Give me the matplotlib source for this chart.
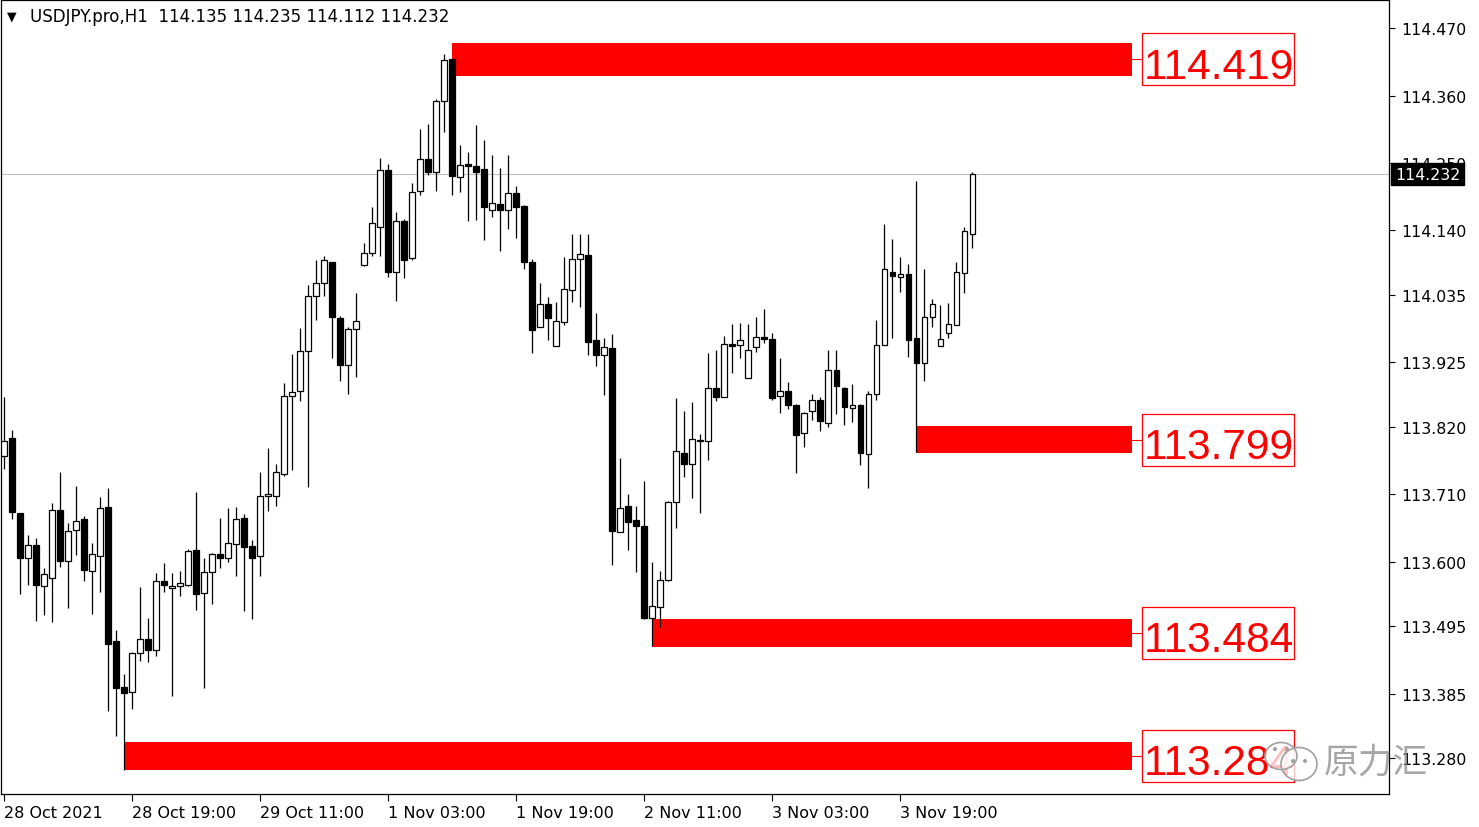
import numpy as np
import matplotlib.pyplot as plt
from matplotlib.patches import Rectangle, Ellipse
import matplotlib.transforms as mtransforms

# USDJPY H1 bars, 28 Oct 03:00 -> 4 Nov 04:00
opens = [113.772, 113.802, 113.679, 113.606, 113.627, 113.560, 113.574, 113.684, 113.601, 113.652,
         113.670, 113.585, 113.609, 113.689, 113.471, 113.396, 113.388, 113.451, 113.474, 113.456,
         113.569, 113.557, 113.560, 113.562, 113.619, 113.549, 113.583, 113.613, 113.606, 113.629,
         113.671, 113.626, 113.609, 113.708, 113.707, 113.743, 113.870, 113.878, 113.944, 114.033,
         114.054, 114.089, 113.997, 113.921, 113.979, 114.084, 114.103, 114.146, 114.239, 114.072,
         114.155, 114.095, 114.204, 114.257, 114.235, 114.351, 114.419, 114.227, 114.248, 114.245,
         114.240, 114.173, 114.183, 114.173, 114.201, 114.180, 114.089, 113.983, 114.020, 113.952,
         113.991, 114.043, 114.094, 114.100, 113.961, 113.937, 113.948, 113.648, 113.691, 113.668,
         113.658, 113.508, 113.526, 113.570, 113.697, 113.777, 113.759, 113.797, 113.797, 113.883,
         113.869, 113.955, 113.953, 113.900, 113.950, 113.966, 113.963, 113.870, 113.878, 113.856,
         113.810, 113.846, 113.864, 113.826, 113.913, 113.883, 113.851, 113.856, 113.776, 113.873,
         113.953, 114.072, 114.064, 114.069, 113.965, 113.924, 113.999, 113.952, 113.973, 113.986,
         114.071, 114.135]
highs = [113.869, 113.815, 113.679, 113.644, 113.639, 113.590, 113.696, 113.746, 113.663, 113.724,
         113.675, 113.631, 113.706, 113.720, 113.489, 113.417, 113.453, 113.559, 113.508, 113.582,
         113.598, 113.582, 113.585, 113.621, 113.714, 113.606, 113.614, 113.671, 113.688, 113.689,
         113.678, 113.636, 113.746, 113.785, 113.759, 113.891, 113.939, 113.981, 114.051, 114.092,
         114.098, 114.089, 114.001, 113.983, 114.038, 114.120, 114.178, 114.258, 114.248, 114.170,
         114.159, 114.217, 114.305, 114.314, 114.354, 114.428, 114.419, 114.279, 114.268, 114.312,
         114.287, 114.263, 114.242, 114.263, 114.212, 114.182, 114.094, 114.054, 114.032, 114.023,
         114.097, 114.134, 114.134, 114.134, 114.005, 113.965, 113.971, 113.769, 113.710, 113.691,
         113.732, 113.600, 113.585, 113.699, 113.867, 113.846, 113.860, 113.808, 113.940, 113.945,
         113.968, 113.988, 113.989, 113.988, 113.999, 114.012, 113.973, 113.932, 113.893, 113.857,
         113.844, 113.873, 113.869, 113.945, 113.945, 113.885, 113.890, 113.857, 113.878, 113.994,
         114.151, 114.126, 114.097, 114.085, 114.221, 114.077, 114.028, 114.019, 114.022, 114.089,
         114.146, 114.235]
lows = [113.751, 113.670, 113.547, 113.562, 113.503, 113.513, 113.502, 113.591, 113.525, 113.611,
        113.569, 113.515, 113.551, 113.357, 113.316, 113.260, 113.360, 113.438, 113.437, 113.446,
        113.551, 113.381, 113.544, 113.560, 113.521, 113.394, 113.531, 113.590, 113.600, 113.577,
        113.520, 113.507, 113.577, 113.683, 113.691, 113.740, 113.750, 113.862, 113.722, 113.994,
        114.033, 113.932, 113.895, 113.873, 113.901, 114.082, 114.098, 114.098, 114.064, 114.025,
        114.063, 114.092, 114.198, 114.230, 114.204, 114.301, 114.198, 114.203, 114.155, 114.157,
        114.124, 114.162, 114.107, 114.142, 114.128, 114.077, 113.940, 113.983, 113.961, 113.952,
        113.986, 114.023, 114.015, 113.937, 113.919, 113.872, 113.595, 113.648, 113.619, 113.583,
        113.507, 113.463, 113.494, 113.569, 113.655, 113.738, 113.704, 113.679, 113.766, 113.862,
        113.869, 113.908, 113.932, 113.900, 113.942, 113.957, 113.864, 113.842, 113.849, 113.745,
        113.787, 113.831, 113.813, 113.820, 113.841, 113.823, 113.828, 113.758, 113.720, 113.864,
        113.953, 113.965, 114.040, 113.934, 113.779, 113.895, 113.983, 113.952, 113.965, 113.986,
        114.038, 114.112]
closes = [113.797, 113.681, 113.606, 113.627, 113.562, 113.580, 113.684, 113.601, 113.650, 113.666,
          113.587, 113.613, 113.688, 113.466, 113.394, 113.386, 113.451, 113.474, 113.456, 113.569,
          113.562, 113.560, 113.565, 113.618, 113.547, 113.583, 113.613, 113.606, 113.631, 113.670,
          113.624, 113.606, 113.707, 113.710, 113.746, 113.870, 113.877, 113.944, 114.033, 114.054,
          114.092, 113.999, 113.921, 113.979, 113.992, 114.103, 114.152, 114.239, 114.072, 114.155,
          114.092, 114.203, 114.257, 114.235, 114.351, 114.418, 114.229, 114.247, 114.245, 114.235,
          114.178, 114.185, 114.173, 114.201, 114.178, 114.089, 113.978, 114.020, 113.997, 113.992,
          114.045, 114.094, 114.102, 113.958, 113.937, 113.950, 113.650, 113.688, 113.665, 113.658,
          113.508, 113.528, 113.570, 113.697, 113.781, 113.759, 113.800, 113.798, 113.883, 113.869,
          113.955, 113.952, 113.961, 113.945, 113.966, 113.963, 113.867, 113.878, 113.856, 113.807,
          113.842, 113.864, 113.829, 113.913, 113.887, 113.852, 113.856, 113.777, 113.873, 113.953,
          114.077, 114.066, 114.069, 113.961, 113.924, 113.999, 114.020, 113.963, 113.988, 114.072,
          114.139, 114.232]

# x axis labels, one every 16 bars
xtick_labels = ["28 Oct 2021", "28 Oct 19:00", "29 Oct 11:00", "1 Nov 03:00",
                "1 Nov 19:00", "2 Nov 11:00", "3 Nov 03:00", "3 Nov 19:00"]
ytick_values = [114.470, 114.360, 114.250, 114.140, 114.035, 113.925,
                113.820, 113.710, 113.600, 113.495, 113.385, 113.280]

# support / resistance zones
level_prices = [114.419, 113.799, 113.484, 113.284]
level_start = [56, 114, 81, 15]
level_half = [0.027, 0.022, 0.023, 0.023]
level_texts = ["114.419", "113.799", "113.484", "113.284"]

header = "USDJPY.pro,H1  114.135 114.235 114.112 114.232"
last_price = 114.232

W, H = 1479, 828
fig = plt.figure(figsize=(W / 100, H / 100), dpi=100)
ax = fig.add_axes([0.5 / W, 33 / H, 1388 / W, 794.5 / H])

o = np.array(opens)
h = np.array(highs)
l = np.array(lows)
c = np.array(closes)
idx = np.arange(len(o))
up = c >= o

# zones (under candles)
zone_end = 141
for lv, st, hh, txt in zip(level_prices, level_start, level_half, level_texts):
    ax.add_patch(Rectangle((st, lv - hh), zone_end - st, 2 * hh,
                           facecolor="#ff0000", edgecolor="none", zorder=1))
    ax.plot([zone_end, 142.25], [lv, lv], color="#ff0000", lw=0.8, zorder=1,
            clip_on=False)
    ax.add_patch(Rectangle((142.25, lv - 0.0424), 19, 0.0848, facecolor="white",
                           edgecolor="#ff0000", lw=0.9, zorder=1.5))
    ax.text(151.75, lv - 0.030, txt, ha="center", va="baseline", color="#ff0000",
            fontsize=30.5, family="Liberation Sans", zorder=1.6)

# current price line
ax.axhline(last_price, color="#c0c0c0", lw=0.8, zorder=0.5)

# candles
ax.vlines(idx, l, h, color="black", lw=0.9, zorder=2)
body_lo = np.minimum(o, c)
body_h = np.abs(c - o)
ax.bar(idx[up], body_h[up], bottom=body_lo[up], width=0.7, color="white",
       edgecolor="black", lw=0.9, zorder=3)
ax.bar(idx[~up], body_h[~up], bottom=body_lo[~up], width=0.7, color="black",
       edgecolor="black", lw=0.9, zorder=3)

ax.set_xlim(-0.4375, 173)
ax.set_ylim(113.2215, 114.5165)

for s in ax.spines.values():
    s.set_color("black")
    s.set_linewidth(0.9)

ax.yaxis.tick_right()
ax.set_yticks(ytick_values)
ax.set_yticklabels([f"{v:.3f}" for v in ytick_values])
ax.tick_params(axis="y", direction="out", length=4, width=0.8, labelsize=11.3, pad=5)

ax.set_xticks(idx[::16])
ax.set_xticklabels(xtick_labels, ha="left")
ax.tick_params(axis="x", direction="out", length=5, width=0.8, labelsize=11.5, pad=3)

# current price tag on the axis
trans = mtransforms.blended_transform_factory(ax.transAxes, ax.transData)
ax.text(1.0047, last_price, f"{last_price:.3f}", transform=trans, color="white",
        fontsize=11.3, va="center", ha="left", clip_on=False, zorder=10,
        bbox=dict(boxstyle="square,pad=0.25", facecolor="black", edgecolor="black"))

# header
fig.text(7 / W, 1 - 17 / H, "▼", fontsize=9, va="center", ha="left")
fig.text(30 / W, 1 - 17 / H, header, fontsize=12, va="center", ha="left")

# watermark
ov = fig.add_axes([0, 0, 1, 1], zorder=20)
ov.set_xlim(0, W)
ov.set_ylim(H, 0)
ov.axis("off")
ov.patch.set_alpha(0)
ov.add_patch(Ellipse((1281, 757), 32, 27, facecolor="white", alpha=0.75,
                     edgecolor="none"))
ov.add_patch(Ellipse((1299, 765), 36, 33, facecolor="white", alpha=0.75,
                     edgecolor="none"))
ov.add_patch(Ellipse((1281, 757), 32, 27, facecolor="none", edgecolor="#a0a0a0", lw=1.2))
ov.add_patch(Ellipse((1299, 765), 36, 33, facecolor="none", edgecolor="#a0a0a0", lw=1.2))
for ex, ey in [(1275, 750), (1287, 750), (1293, 762), (1305, 762)]:
    ov.add_patch(Ellipse((ex, ey), 4, 4, facecolor="#a0a0a0", edgecolor="none"))
ov.text(1376, 763, "原力汇", fontsize=25, color="#909090", alpha=0.8,
        ha="center", va="center", family=["Noto Sans CJK SC", "DejaVu Sans"])

fig.savefig("out.png", dpi=100)
